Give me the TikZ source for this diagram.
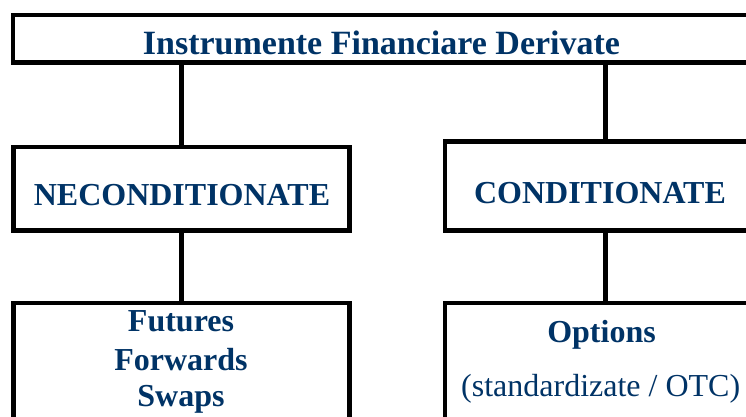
\documentclass[tikz,border=0pt]{standalone}
\usepackage{fontspec}
\setmainfont{Liberation Serif}
\definecolor{navy}{RGB}{0,51,102}
\begin{document}
\begin{tikzpicture}[x=1pt,y=-1pt,
  box/.style={draw=black, line width=4.5pt, fill=white, rectangle, inner sep=0pt, outer sep=0pt},
  conn/.style={draw=black, line width=4.5pt},
  lbl/.style={text=navy, anchor=base, inner sep=0pt, font=\fontsize{32}{37.5}\selectfont\bfseries},
  lblr/.style={text=navy, anchor=base, inner sep=0pt, font=\fontsize{32}{37.5}\selectfont}]
\useasboundingbox (0,0) rectangle (746,417);
\clip (0,0) rectangle (746,417);
% boxes
\node[box, minimum width=737pt, minimum height=47.5pt] (top) at (381.5,38.75) {};
\node[box, minimum width=336pt, minimum height=83.5pt] (nec) at (181.5,188.75) {};
\node[box, minimum width=321pt, minimum height=89pt] (cond) at (605.5,186) {};
\node[box, minimum width=336pt, minimum height=137pt] (fut) at (181.5,371.5) {};
\node[box, minimum width=321pt, minimum height=137pt] (opt) at (605.5,371.5) {};
% connectors
\draw[conn] (top.south -| nec.north) -- (nec.north);
\draw[conn] (top.south -| cond.north) -- (cond.north);
\draw[conn] (nec.south) -- (fut.north);
\draw[conn] (cond.south) -- (opt.north);
% texts
\node[lbl, font=\fontsize{34}{40}\selectfont\bfseries] (ttop) at (381.5,55) {Instrumente Financiare Derivate};
\node[lbl] (tnec) at (182,205) {NECONDITIONATE};
\node[lbl] (tcond) at (600,203.3) {CONDITIONATE};
\node[lbl] (tfut1) at (181,331.7) {Futures};
\node[lbl] (tfut2) at (181,370) {Forwards};
\node[lbl] (tfut3) at (181,406.7) {Swaps};
\node[lbl] (topt1) at (601.5,342.7) {Options};
\node[lblr] (topt2) at (600.7,396.7) {(standardizate / OTC)};
\end{tikzpicture}
\end{document}
